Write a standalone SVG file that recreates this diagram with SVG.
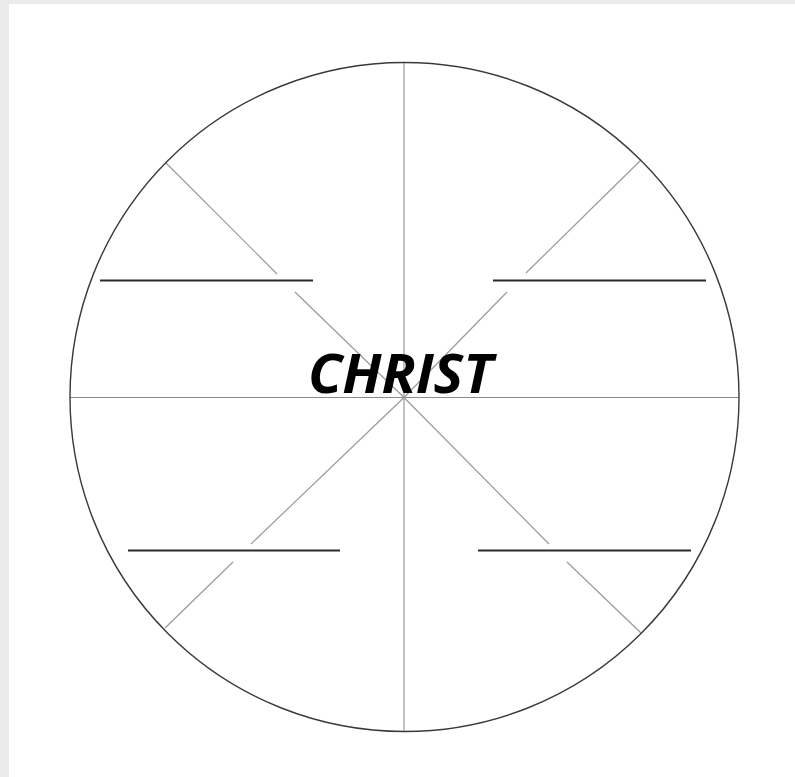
<svg xmlns="http://www.w3.org/2000/svg" width="795" height="777" viewBox="0 0 795 777">
<style>
.axis{stroke:#8a8a8a;stroke-width:1;fill:none}
.diag{stroke:#9a9a9a;stroke-width:1.2;fill:none}
.blank{stroke:#2a2a2a;stroke-width:2;fill:none}
.ring{stroke:#3a3a3a;stroke-width:1.4;fill:none}
.title{font-family:"Open Sans","Liberation Sans",sans-serif;font-weight:bold;font-style:italic;font-size:54px;fill:#000}
</style>
<rect x="0" y="0" width="795" height="777" fill="#ebebeb"/>
<rect x="9" y="4" width="786" height="773" fill="#ffffff"/>
<g id="connectors">
<line class="axis" x1="404" y1="62" x2="404" y2="731"/>
<line class="axis" x1="70" y1="397.5" x2="739" y2="397.5"/>
<line class="diag" x1="166" y1="163" x2="277" y2="274"/>
<line class="diag" x1="295" y1="292" x2="404" y2="397.5"/>
<line class="diag" x1="641" y1="160" x2="526" y2="273"/>
<line class="diag" x1="507" y1="292" x2="404" y2="397.5"/>
<line class="diag" x1="404" y1="397.5" x2="251" y2="544"/>
<line class="diag" x1="233" y1="562" x2="165" y2="628"/>
<line class="diag" x1="404" y1="397.5" x2="549" y2="544"/>
<line class="diag" x1="567" y1="562" x2="641" y2="633"/>
</g>
<g id="circle">
<circle class="ring" cx="404.5" cy="397" r="334.5"/>
</g>
<g id="blank-ul"><line class="blank" x1="100" y1="280.5" x2="313" y2="280.5"/></g>
<g id="blank-ur"><line class="blank" x1="493" y1="280.5" x2="706" y2="280.5"/></g>
<g id="blank-ll"><line class="blank" x1="128" y1="550.5" x2="340" y2="550.5"/></g>
<g id="blank-lr"><line class="blank" x1="478" y1="550.5" x2="691" y2="550.5"/></g>
<g id="center">
<text class="title" x="400.5" y="393" text-anchor="middle" textLength="185" lengthAdjust="spacingAndGlyphs">CHRIST</text>
</g>
</svg>
